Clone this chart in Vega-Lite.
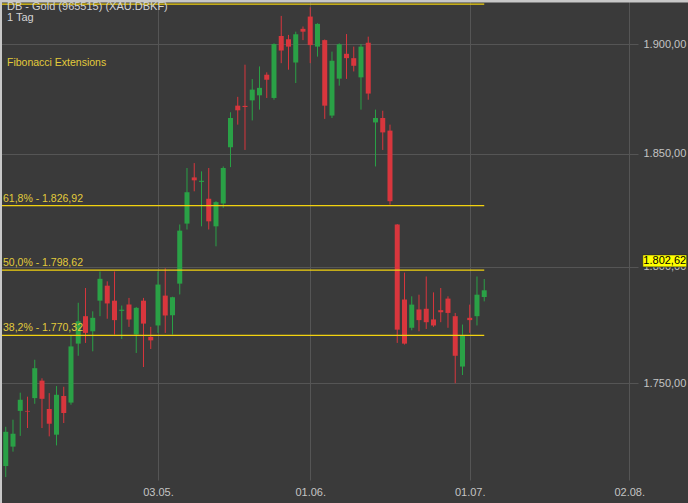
{
  "$schema": "https://vega.github.io/schema/vega-lite/v6.json",
  "width": 638,
  "height": 480,
  "autosize": {"type": "none"},
  "padding": {"left": 0, "top": 0, "right": 50, "bottom": 23},
  "background": "#3a3a3a",
  "config": {"view": {"stroke": null, "fill": "#3a3a3a"}, "font": "Liberation Sans"},
  "title": {
    "text": "DB - Gold (965515) (XAU.DBKF)",
    "subtitle": "1 Tag",
    "anchor": "start",
    "frame": "group",
    "offset": -25,
    "dx": 7,
    "color": "#d4d4d4",
    "subtitleColor": "#d4d4d4",
    "fontSize": 11,
    "subtitleFontSize": 11,
    "fontWeight": "normal",
    "font": "Liberation Sans",
    "subtitleFont": "Liberation Sans",
    "subtitlePadding": 0
  },
  "datasets": {
    "candles": [
      {"i": 0, "o": 1715.1, "h": 1731.5, "l": 1710.5, "c": 1729.4},
      {"i": 1, "o": 1723.2, "h": 1734.5, "l": 1721.1, "c": 1728.6},
      {"i": 2, "o": 1738.2, "h": 1745.9, "l": 1727.7, "c": 1742.9},
      {"i": 3, "o": 1738.2, "h": 1744.2, "l": 1731.0, "c": 1737.9},
      {"i": 4, "o": 1743.6, "h": 1759.9, "l": 1741.2, "c": 1756.3},
      {"i": 5, "o": 1751.0, "h": 1752.0, "l": 1731.0, "c": 1743.3},
      {"i": 6, "o": 1739.0, "h": 1745.7, "l": 1727.5, "c": 1732.8},
      {"i": 7, "o": 1728.2, "h": 1748.7, "l": 1723.7, "c": 1745.0},
      {"i": 8, "o": 1744.5, "h": 1748.4, "l": 1733.1, "c": 1737.3},
      {"i": 9, "o": 1741.7, "h": 1770.3, "l": 1740.8, "c": 1765.6},
      {"i": 10, "o": 1766.8, "h": 1784.4, "l": 1761.6, "c": 1776.4},
      {"i": 11, "o": 1778.6, "h": 1790.8, "l": 1767.1, "c": 1771.4},
      {"i": 12, "o": 1772.1, "h": 1780.7, "l": 1763.5, "c": 1777.9},
      {"i": 13, "o": 1785.3, "h": 1798.0, "l": 1778.6, "c": 1794.8},
      {"i": 14, "o": 1791.8, "h": 1793.7, "l": 1777.5, "c": 1784.1},
      {"i": 15, "o": 1785.3, "h": 1798.0, "l": 1770.7, "c": 1776.9},
      {"i": 16, "o": 1780.9, "h": 1783.2, "l": 1768.8, "c": 1781.4},
      {"i": 17, "o": 1783.6, "h": 1786.5, "l": 1774.0, "c": 1777.2},
      {"i": 18, "o": 1770.7, "h": 1782.6, "l": 1762.8, "c": 1782.2},
      {"i": 19, "o": 1785.3, "h": 1786.5, "l": 1756.8, "c": 1775.4},
      {"i": 20, "o": 1769.7, "h": 1774.0, "l": 1764.5, "c": 1768.2},
      {"i": 21, "o": 1774.6, "h": 1798.0, "l": 1771.4, "c": 1792.3},
      {"i": 22, "o": 1787.5, "h": 1799.4, "l": 1771.4, "c": 1778.9},
      {"i": 23, "o": 1779.0, "h": 1787.0, "l": 1770.7, "c": 1786.8},
      {"i": 24, "o": 1792.7, "h": 1818.6, "l": 1788.0, "c": 1815.9},
      {"i": 25, "o": 1819.0, "h": 1843.7, "l": 1816.4, "c": 1832.9},
      {"i": 26, "o": 1839.5, "h": 1845.9, "l": 1833.3, "c": 1838.2},
      {"i": 27, "o": 1837.5, "h": 1842.2, "l": 1817.8, "c": 1838.0},
      {"i": 28, "o": 1830.0, "h": 1843.7, "l": 1816.4, "c": 1820.0},
      {"i": 29, "o": 1817.8, "h": 1828.9, "l": 1809.0, "c": 1828.5},
      {"i": 30, "o": 1827.9, "h": 1844.4, "l": 1826.0, "c": 1843.7},
      {"i": 31, "o": 1853.0, "h": 1868.8, "l": 1844.1, "c": 1866.2},
      {"i": 32, "o": 1871.8, "h": 1875.8, "l": 1863.2, "c": 1869.7},
      {"i": 33, "o": 1871.7, "h": 1890.5, "l": 1851.8, "c": 1871.2},
      {"i": 34, "o": 1874.2, "h": 1883.9, "l": 1865.1, "c": 1879.1},
      {"i": 35, "o": 1876.5, "h": 1889.7, "l": 1870.0, "c": 1879.9},
      {"i": 36, "o": 1885.9, "h": 1887.0, "l": 1875.3, "c": 1883.6},
      {"i": 37, "o": 1875.3, "h": 1900.3, "l": 1874.5, "c": 1900.0},
      {"i": 38, "o": 1903.7, "h": 1913.0, "l": 1891.2, "c": 1897.0},
      {"i": 39, "o": 1902.2, "h": 1904.2, "l": 1888.2, "c": 1898.8},
      {"i": 40, "o": 1891.5, "h": 1905.7, "l": 1882.1, "c": 1904.5},
      {"i": 41, "o": 1907.0, "h": 1908.1, "l": 1901.8, "c": 1905.7},
      {"i": 42, "o": 1912.7, "h": 1917.0, "l": 1891.2, "c": 1899.5},
      {"i": 43, "o": 1898.8, "h": 1909.6, "l": 1894.2, "c": 1909.3},
      {"i": 44, "o": 1901.8, "h": 1902.1, "l": 1865.8, "c": 1871.8},
      {"i": 45, "o": 1867.3, "h": 1896.5, "l": 1866.2, "c": 1892.3},
      {"i": 46, "o": 1884.1, "h": 1900.3, "l": 1880.9, "c": 1899.9},
      {"i": 47, "o": 1895.5, "h": 1904.6, "l": 1884.0, "c": 1893.5},
      {"i": 48, "o": 1893.5, "h": 1898.8, "l": 1887.4, "c": 1890.0},
      {"i": 49, "o": 1884.7, "h": 1900.0, "l": 1870.0, "c": 1898.8},
      {"i": 50, "o": 1900.6, "h": 1903.4, "l": 1874.5, "c": 1877.3},
      {"i": 51, "o": 1864.2, "h": 1870.0, "l": 1844.4, "c": 1866.2},
      {"i": 52, "o": 1866.2, "h": 1869.5, "l": 1851.8, "c": 1859.7},
      {"i": 53, "o": 1860.5, "h": 1863.2, "l": 1827.4, "c": 1828.9},
      {"i": 54, "o": 1818.6, "h": 1818.8, "l": 1767.1, "c": 1772.8},
      {"i": 55, "o": 1785.8, "h": 1797.5, "l": 1766.4, "c": 1766.8},
      {"i": 56, "o": 1773.6, "h": 1787.2, "l": 1772.5, "c": 1783.6},
      {"i": 57, "o": 1781.5, "h": 1787.9, "l": 1772.1, "c": 1776.9},
      {"i": 58, "o": 1781.8, "h": 1795.8, "l": 1773.1, "c": 1776.0},
      {"i": 59, "o": 1777.2, "h": 1788.9, "l": 1774.0, "c": 1774.6},
      {"i": 60, "o": 1781.2, "h": 1790.8, "l": 1776.0, "c": 1780.3},
      {"i": 61, "o": 1786.2, "h": 1787.2, "l": 1773.6, "c": 1780.0},
      {"i": 62, "o": 1778.6, "h": 1780.0, "l": 1749.9, "c": 1761.6},
      {"i": 63, "o": 1757.0, "h": 1775.0, "l": 1753.4, "c": 1770.3},
      {"i": 64, "o": 1777.9, "h": 1783.6, "l": 1771.4, "c": 1776.9},
      {"i": 65, "o": 1778.6, "h": 1795.8, "l": 1774.6, "c": 1787.9},
      {"i": 66, "o": 1786.9, "h": 1794.7, "l": 1785.0, "c": 1789.8}
    ],
    "fib": [
      {"level": "100,0%", "value": 1918.52, "label": ""},
      {"level": "61,8%", "value": 1826.92, "label": "61,8% - 1.826,92"},
      {"level": "50,0%", "value": 1798.62, "label": "50,0% - 1.798,62"},
      {"level": "38,2%", "value": 1770.32, "label": "38,2% - 1.770,32"}
    ],
    "last": [
      {"price": 1802.62, "label": "1.802,62"}
    ]
  },
  "layer": [
    {
      "data": {"name": "candles"},
      "mark": {"type": "rule", "strokeWidth": 1},
      "encoding": {
        "x": {
          "field": "i",
          "type": "quantitative",
          "scale": {"domain": [-0.793, 87.21], "nice": false, "zero": false, "padding": 0},
          "axis": {
            "orient": "bottom",
            "values": [21, 42, 64, 86],
            "labelExpr": "datum.value == 21 ? '03.05.' : datum.value == 42 ? '01.06.' : datum.value == 64 ? '01.07.' : '02.08.'",
            "grid": true,
            "gridColor": "#555555",
            "gridWidth": 1,
            "ticks": false,
            "domain": false,
            "labelColor": "#c4c4c4",
            "labelFontSize": 11,
            "labelFont": "Liberation Sans",
            "labelPadding": 6,
            "title": null
          }
        },
        "y": {
          "field": "l",
          "type": "quantitative",
          "scale": {"type": "log", "domain": [1709.3, 1920.4], "nice": false, "zero": false, "padding": 0},
          "axis": {
            "orient": "right",
            "values": [1750, 1800, 1850, 1900],
            "labelExpr": "replace(replace(replace(format(datum.value, ',.2f'), ',', ' '), '.', ','), ' ', '.')",
            "grid": true,
            "gridColor": "#555555",
            "gridWidth": 1,
            "ticks": false,
            "domain": false,
            "labelColor": "#c4c4c4",
            "labelFontSize": 11,
            "labelFont": "Liberation Sans",
            "labelPadding": 5,
            "title": null
          }
        },
        "y2": {"field": "h"},
        "color": {"condition": {"test": "datum.c >= datum.o", "value": "#2aa146"}, "value": "#d8363d"}
      }
    },
    {
      "data": {"name": "candles"},
      "mark": {"type": "bar", "width": 5},
      "encoding": {
        "x": {"field": "i", "type": "quantitative"},
        "y": {"field": "o", "type": "quantitative"},
        "y2": {"field": "c"},
        "color": {"condition": {"test": "datum.c >= datum.o", "value": "#2aa146"}, "value": "#d8363d"}
      }
    },
    {
      "data": {"name": "fib"},
      "mark": {"type": "rule", "color": "#f2d20f", "strokeWidth": 1.3},
      "encoding": {
        "x": {"datum": -0.793},
        "x2": {"datum": 66},
        "y": {"field": "value", "type": "quantitative"}
      }
    },
    {
      "data": {"name": "fib"},
      "transform": [{"filter": "datum.label != ''"}],
      "mark": {"type": "text", "align": "left", "baseline": "alphabetic", "dy": -4, "color": "#e2cb3a", "fontSize": 10.5, "font": "Liberation Sans"},
      "encoding": {
        "x": {"datum": -0.38},
        "y": {"field": "value", "type": "quantitative"},
        "text": {"field": "label"}
      }
    },
    {
      "data": {"values": [{"name": "Fibonacci Extensions"}]},
      "mark": {"type": "text", "align": "left", "baseline": "middle", "color": "#e2cb3a", "fontSize": 10.5, "font": "Liberation Sans"},
      "encoding": {
        "x": {"datum": 0.17},
        "y": {"datum": 1891.3},
        "text": {"field": "name"}
      }
    },
    {
      "data": {"values": [{"edge": "top"}]},
      "mark": {"type": "rule", "color": "#c8c8c8", "strokeWidth": 5},
      "encoding": {
        "x": {"datum": -0.793},
        "x2": {"datum": 95},
        "y": {"datum": 1920.4}
      }
    },
    {
      "data": {"values": [{"edge": "left"}]},
      "mark": {"type": "rule", "color": "#c8c8c8", "strokeWidth": 4},
      "encoding": {
        "x": {"datum": -0.793},
        "y": {"datum": 1920.4},
        "y2": {"datum": 1650}
      }
    },
    {
      "data": {"name": "last"},
      "mark": {"type": "point", "shape": "M-1.83,-0.5H1.83V0.5H-1.83Z", "size": 576, "filled": true, "fill": "#ffff00", "stroke": "#222222", "strokeWidth": 0.6, "opacity": 1},
      "encoding": {
        "x": {"datum": 90.9},
        "y": {"field": "price", "type": "quantitative"}
      }
    },
    {
      "data": {"name": "last"},
      "mark": {"type": "text", "align": "center", "baseline": "middle", "color": "#000000", "fontSize": 11, "font": "Liberation Sans"},
      "encoding": {
        "x": {"datum": 90.9},
        "y": {"field": "price", "type": "quantitative"},
        "text": {"field": "label"}
      }
    }
  ]
}
